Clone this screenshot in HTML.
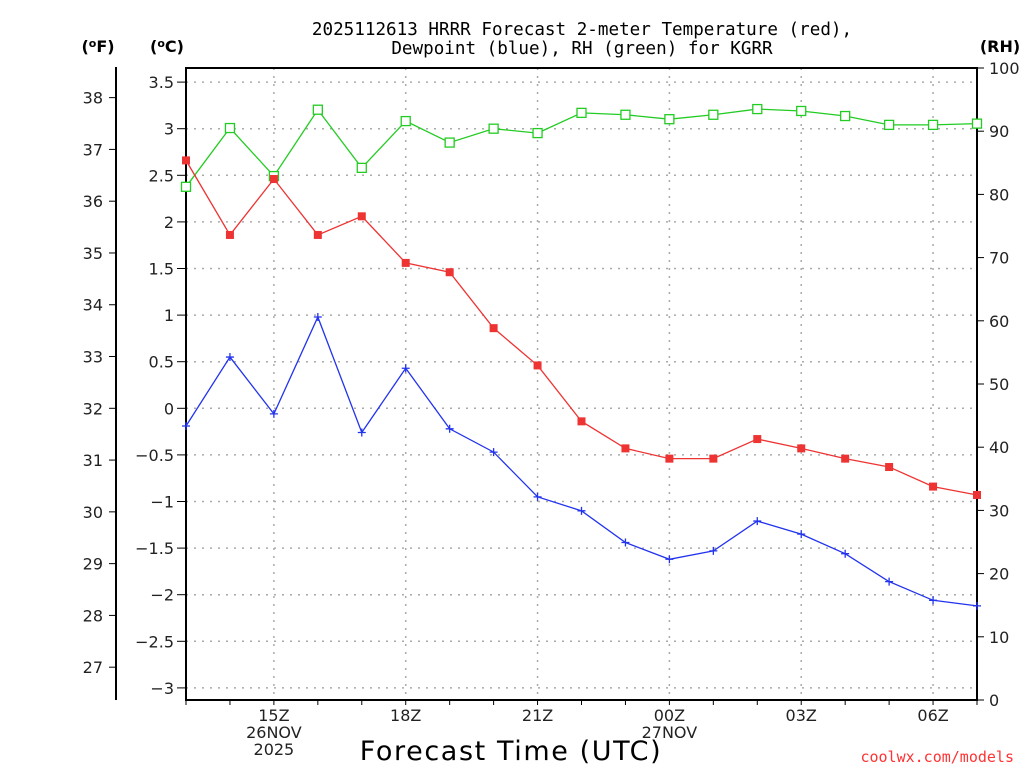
<!DOCTYPE html>
<html><head><meta charset="utf-8"><style>
body{margin:0;background:#fff;}
svg{display:block;font-family:"DejaVu Sans","Liberation Sans",sans-serif;}
</style></head><body>
<svg id="chart" width="1024" height="768" viewBox="0 0 1024 768">
<text x="582" y="35" text-anchor="middle" font-size="17.6" font-family="DejaVu Sans Mono, Liberation Mono, monospace">2025112613 HRRR Forecast 2-meter Temperature (red),</text>
<text x="582" y="54" text-anchor="middle" font-size="17.6" font-family="DejaVu Sans Mono, Liberation Mono, monospace">Dewpoint (blue), RH (green) for KGRR</text>
<text x="98" y="52" text-anchor="middle" font-size="16" font-weight="bold">(<tspan font-size="11" dy="-5">o</tspan><tspan dy="5">F)</tspan></text>
<text x="167" y="52" text-anchor="middle" font-size="16" font-weight="bold">(<tspan font-size="11" dy="-5">o</tspan><tspan dy="5">C)</tspan></text>
<text x="1000" y="52" text-anchor="middle" font-size="16" font-weight="bold">(RH)</text>
<text x="511" y="760" text-anchor="middle" font-size="27" letter-spacing="1.6">Forecast Time (UTC)</text>
<text x="1014" y="762" text-anchor="end" font-size="15" fill="#ff3333" font-family="DejaVu Sans Mono, Liberation Mono, monospace">coolwx.com/models</text>
</svg>
<script>
const hours=["13","14","15","16","17","18","19","20","21","22","23","00","01","02","03","04","05","06","07"];
const tempC=[2.66,1.86,2.46,1.86,2.06,1.56,1.46,0.86,0.46,-0.14,-0.43,-0.54,-0.54,-0.33,-0.43,-0.54,-0.63,-0.84,-0.93];
const dewC=[-0.19,0.55,-0.06,0.98,-0.26,0.43,-0.22,-0.47,-0.95,-1.10,-1.44,-1.62,-1.53,-1.21,-1.35,-1.56,-1.86,-2.06,-2.12];
const rh=[81.2,90.5,82.9,93.4,84.2,91.6,88.2,90.4,89.7,92.9,92.6,91.9,92.6,93.5,93.2,92.4,91.0,91.0,91.2];
const cTicks=["3.5","3","2.5","2","1.5","1","0.5","0","-0.5","-1","-1.5","-2","-2.5","-3"];
const fTicks=["38","37","36","35","34","33","32","31","30","29","28","27"];
const rhTicks=["100","90","80","70","60","50","40","30","20","10","0"];
const xLabels=[{i:2,t:["15Z","26NOV","2025"]},{i:5,t:["18Z"]},{i:8,t:["21Z"]},{i:11,t:["00Z","27NOV"]},{i:14,t:["03Z"]},{i:17,t:["06Z"]}];

const L=186,R=977,T=68,B=700;
const NS="http://www.w3.org/2000/svg";
const svg=document.getElementById('chart');
const x=i=>L+(R-L)*i/(hours.length-1);
const yC=v=>408.3-v*93.2;
const yF=v=>yC((v-32)*5/9);
const yR=v=>B-(B-T)*v/100;
function mk(tag,a,parent){const e=document.createElementNS(NS,tag);for(const k in a)e.setAttribute(k,a[k]);(parent||svg).appendChild(e);return e;}

const grid=mk('g',{});


cTicks.forEach(t=>{const y=yC(+t);
 const g=mk('line',{x1:L,x2:R,y1:y,y2:y,stroke:'#aaa','stroke-dasharray':'2,6','stroke-width':1.5},grid);
 
 
 const tk=mk('line',{x1:L-9,x2:L,y1:y,y2:y,stroke:'#000'});
 
 
 const tx=mk('text',{x:L-12,y:y+6,'text-anchor':'end','font-size':16,fill:'#222'});
 tx.textContent=t.replace('-','\u2212');
 
 
});
xLabels.forEach(o=>{const xx=x(o.i);
 const g=mk('line',{x1:xx,x2:xx,y1:T,y2:B,stroke:'#aaa','stroke-dasharray':'2,6','stroke-width':1.5},grid);
 
 
 o.t.forEach((s,k)=>{const tx=mk('text',{x:xx,y:721+k*17,'text-anchor':'middle','font-size':16,fill:'#222'});
  tx.textContent=s;
  
  });
});
hours.forEach((h,i)=>{const tk=mk('line',{x1:x(i),x2:x(i),y1:B,y2:B+5,stroke:'#000'});
 
 });
fTicks.forEach(t=>{const y=yF(+t);
 const tk=mk('line',{x1:109,x2:116,y1:y,y2:y,stroke:'#000'});
 
 
 const tx=mk('text',{x:103,y:y+6,'text-anchor':'end','font-size':16,fill:'#222'});
 tx.textContent=t;
 
 
});
rhTicks.forEach(t=>{const y=yR(+t);
 const tk=mk('line',{x1:R,x2:R+7,y1:y,y2:y,stroke:'#000'});
 
 
 const tx=mk('text',{x:989,y:y+6,'font-size':16,fill:'#222'});
 tx.textContent=t;
 
 
});
const fax=mk('line',{x1:116,x2:116,y1:67,y2:700,stroke:'#000','stroke-width':2});


const frame=mk('rect',{x:L,y:T,width:R-L,height:B-T,fill:'none',stroke:'#000','stroke-width':2});



function series(vals,fy,color,name,marker){
 const g=mk('g',{});
 
 
 const pl=mk('polyline',{points:vals.map((v,i)=>x(i)+','+fy(v)).join(' '),fill:'none',stroke:color,'stroke-width':1.3},g);
 
 
 vals.forEach((v,i)=>{const cx=x(i),cy=fy(v);let m;
  if(marker==='fill')m=mk('rect',{x:cx-4,y:cy-4,width:8,height:8,fill:color},g);
  else if(marker==='open')m=mk('rect',{x:cx-4.5,y:cy-4.5,width:9,height:9,fill:'#fff',stroke:color,'stroke-width':1.3},g);
  else m=mk('path',{d:`M${cx-4},${cy}H${cx+4}M${cx},${cy-4}V${cy+4}`,stroke:color,'stroke-width':1.3},g);
  
  
 });
}
series(rh,yR,'#22cc22','rh','open');
series(tempC,yC,'#ee3333','temperature','fill');
series(dewC,yC,'#2233ee','dewpoint','plus');
</script>
</body></html>
